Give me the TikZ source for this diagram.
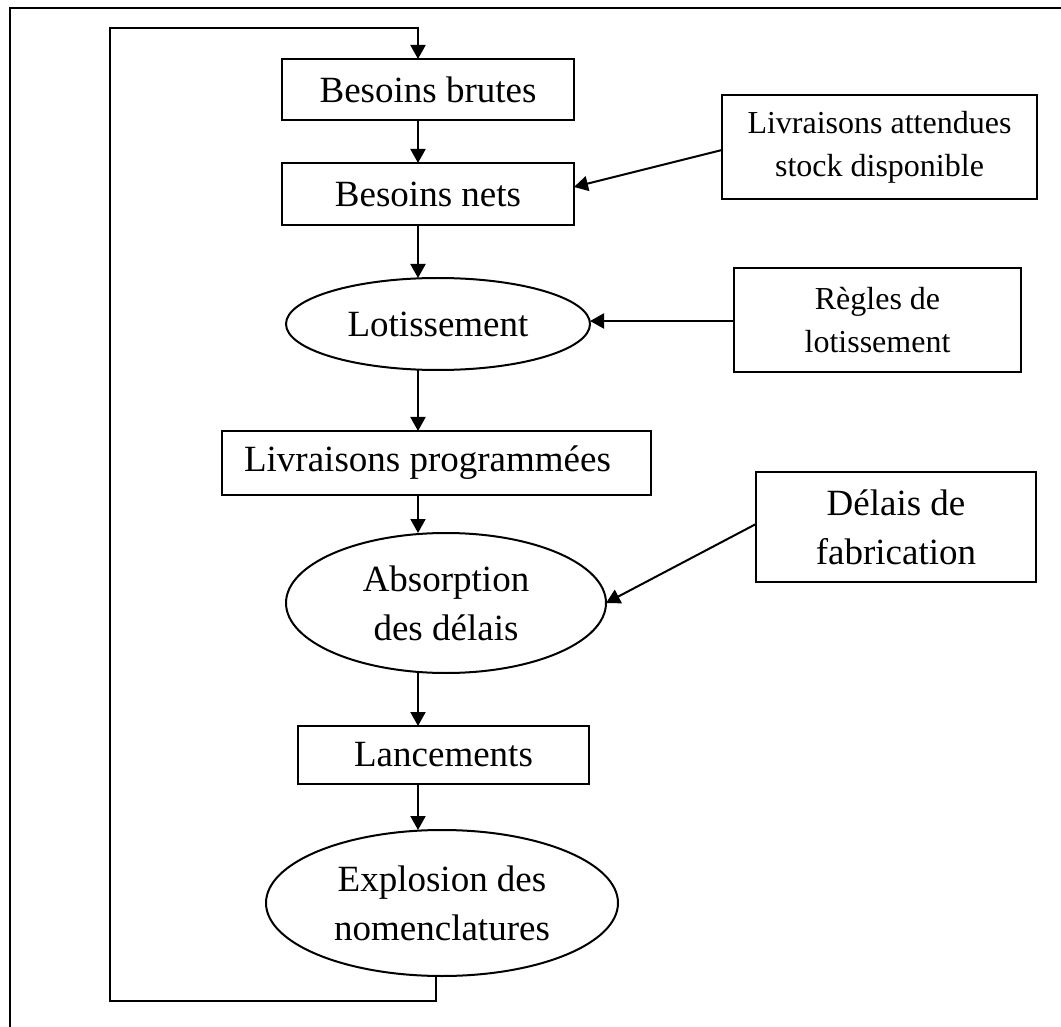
\documentclass[tikz,border=0pt]{standalone}
\usepackage{fontspec}
\setmainfont{Liberation Serif}
\usetikzlibrary{arrows.meta,shapes.geometric}
\begin{document}
\begin{tikzpicture}[x=0.5pt,y=-0.5pt,
  every node/.style={inner sep=0pt, outer sep=0pt},
  big/.style={font=\fontsize{18.5}{24.5}\selectfont, align=center},
  small/.style={font=\fontsize{16}{21.5}\selectfont, align=center},
  box/.style={draw, line width=1pt, rectangle},
  oval/.style={draw, line width=1pt, ellipse},
  link/.style={line width=1pt, -{Triangle[length=7pt,width=7.5pt]}},
  frame/.style={line width=1pt}]
\useasboundingbox (0,0) rectangle (1061,1027);
% cell border (top and left edges)
\draw[frame] (1061,8) -- (10,8) -- (10,1027);

% main column
\node[box,big,minimum width=146pt,minimum height=30.5pt] (brutes) at (428,89.5) {Besoins brutes};
\node[box,big,minimum width=146pt,minimum height=31pt] (nets) at (428,194) {Besoins nets};
\node[oval,big,minimum width=152pt,minimum height=46pt] (lot) at (438,324) {Lotissement};
\node[box,big,minimum width=214.5pt,minimum height=32pt] (prog) at (436.5,463) {Livraisons programmées\hspace*{9pt}};
\node[oval,big,minimum width=160pt,minimum height=70pt] (abs) at (446,603) {Absorption\\des délais};
\node[box,big,minimum width=145.5pt,minimum height=29pt] (lanc) at (443.5,755) {Lancements};
\node[oval,big,minimum width=176pt,minimum height=73pt] (expl) at (442,903) {Explosion des\\nomenclatures};

% side inputs
\node[box,small,minimum width=157.5pt,minimum height=52pt] (att) at (879.5,147) {Livraisons attendues\\stock disponible};
\node[box,small,minimum width=143.5pt,minimum height=52pt] (regles) at (877.5,320) {Règles de\\lotissement};
\node[box,big,minimum width=140pt,minimum height=55pt] (delais) at (896,527) {Délais de\\fabrication};

% vertical flow axis and loop corners
\coordinate (axis) at (418,0);
\coordinate (loopx) at (436,0);
\coordinate (lb) at (110,1001);
\coordinate (lt) at (110,28);

\draw[link] (brutes.south -| axis) -- (nets.north -| axis);
\draw[link] (nets.south -| axis) -- (lot.north -| axis);
\draw[link] (lot.south -| axis) -- (prog.north -| axis);
\draw[link] (prog.south -| axis) -- (abs.north -| axis);
\draw[link] (abs.south -| axis) -- (lanc.north -| axis);
\draw[link] (lanc.south -| axis) -- (expl.north -| axis);

% feedback loop
\draw[link] (expl.south -| loopx) |- (lb) -- (lt) -| (brutes.north -| axis);

% side arrows
\draw[link] ([yshift=-1.5pt]att.west) -- ([yshift=3.5pt]nets.east);
\draw[link] ([yshift=-0.5pt]regles.west) -- ([yshift=1.5pt]lot.east);
\draw[link] ([yshift=1.5pt]delais.west) -- (abs.east);
\end{tikzpicture}
\end{document}
